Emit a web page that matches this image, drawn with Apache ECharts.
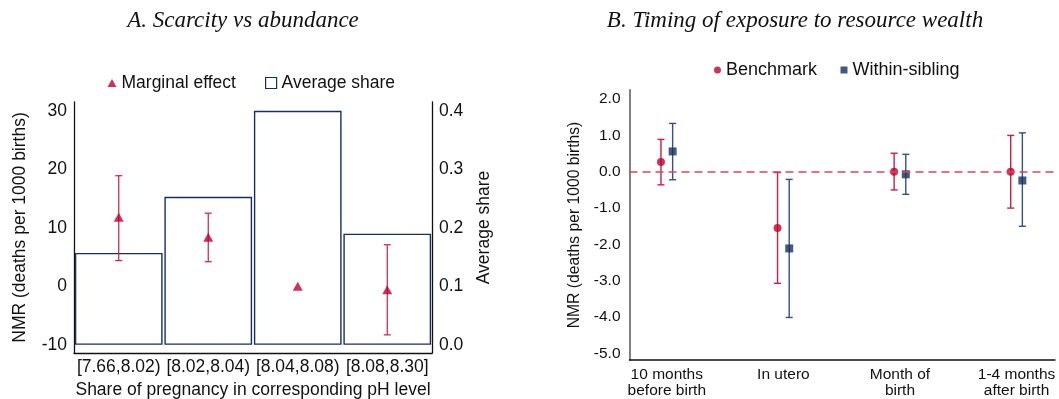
<!DOCTYPE html>
<html><head><meta charset="utf-8">
<script src="https://cdn.jsdelivr.net/npm/echarts@6/dist/echarts.min.js"></script>
<style>html,body{margin:0;padding:0;background:#fff}#c{width:1059px;height:399px}</style>
</head><body><div id="c"></div>
<script>
// ---- Panel A data ----
const phCategories = ['[7.66,8.02)', '[8.02,8.04)', '[8.04,8.08)', '[8.08,8.30]'];
const averageShare = [0.157, 0.253, 0.400, 0.190];
const marginalEffect = [11.8, 8.4, 0.0, -0.6];
const marginalLow = [4.4, 4.2, null, -8.3];
const marginalHigh = [18.9, 12.5, null, 7.1];
const nmrTicksA = [-10, 0, 10, 20, 30];
const shareTicks = [0, 0.1, 0.2, 0.3, 0.4];

// ---- Panel B data ----
const timingCategories = ['10 months\nbefore birth', 'In utero', 'Month of\nbirth', '1-4 months\nafter birth'];
const timingPositions = [1, 2, 3, 4];
const benchmark = [0.27, -1.55, 0.0, 0.0];
const benchmarkLow = [-0.36, -3.07, -0.50, -1.00];
const benchmarkHigh = [0.89, -0.02, 0.51, 1.00];
const sibling = [0.56, -2.11, -0.07, -0.24];
const siblingLow = [-0.22, -4.01, -0.62, -1.50];
const siblingHigh = [1.33, -0.21, 0.48, 1.07];
const nmrTicksB = [-5, -4, -3, -2, -1, 0, 1, 2];

const FONT = "'Liberation Sans', Arial, Helvetica, sans-serif";
const RED = '#bf0030', RED_CI = '#c81f44';
const NAVY = '#172f60', NAVY_CI = '#34508a';
const OFFSET = 0.05;

function errBar(color, half, lw) {
  return function (params, api) {
    const x = api.value(0), lo = api.value(1), hi = api.value(2);
    if (lo == null || isNaN(lo)) return null;
    const a = api.coord([x, hi]), b = api.coord([x, lo]);
    const st = { stroke: color, lineWidth: lw };
    return { type: 'group', children: [
      { type: 'line', shape: { x1: a[0], y1: a[1], x2: b[0], y2: b[1] }, style: st },
      { type: 'line', shape: { x1: a[0] - half, y1: a[1], x2: a[0] + half, y2: a[1] }, style: st },
      { type: 'line', shape: { x1: b[0] - half, y1: b[1], x2: b[0] + half, y2: b[1] }, style: st }
    ]};
  };
}

const chart = echarts.init(document.getElementById('c'), null, { renderer: 'canvas' });
const legendText = { fontFamily: FONT, fontSize: 17.5, color: '#111' };
const serifTitle = { fontFamily: "'Liberation Serif', 'Times New Roman', serif", fontStyle: 'italic', fontWeight: 'normal', fontSize: 23, color: '#111' };

const option = {
  animation: false,
  backgroundColor: '#fff',
  title: [
    { text: 'A. Scarcity vs abundance', left: 238, top: 4, textAlign: 'center', textStyle: serifTitle },
    { text: 'B. Timing of exposure to resource wealth', left: 790, top: 4, textAlign: 'center', textStyle: serifTitle }
  ],
  legend: [
    { data: [{ name: 'Marginal effect', icon: 'triangle' }], left: 107.5, top: 74, padding: 0,
      itemWidth: 9, itemHeight: 8, itemGap: 0, itemTextGap: 6, textStyle: legendText },
    { data: [{ name: 'Average share', icon: 'rect', itemStyle: { color: '#fff', borderColor: NAVY, borderWidth: 1.2 } }],
      left: 265, top: 74, padding: 0, itemWidth: 11, itemHeight: 11, itemTextGap: 5, textStyle: legendText },
    { data: [{ name: 'Benchmark', icon: 'circle' }], left: 714, top: 61, padding: 0,
      itemWidth: 7, itemHeight: 7, itemTextGap: 8, textStyle: { fontFamily: FONT, fontSize: 18, color: '#111' } },
    { data: [{ name: 'Within-sibling', icon: 'rect' }], left: 840.5, top: 61, padding: 0,
      itemWidth: 7, itemHeight: 7, itemTextGap: 8, textStyle: { fontFamily: FONT, fontSize: 18, color: '#111' } }
  ],
  grid: [
    { left: 74, right: 1059 - 432, top: 102, bottom: 399 - 353, containLabel: false, outerBoundsMode: 'none' },
    { left: 629.5, right: 1059 - 1055, top: 90, bottom: 399 - 360, containLabel: false, outerBoundsMode: 'none' }
  ],
  xAxis: [
    { gridIndex: 0, type: 'category', data: phCategories, boundaryGap: true,
      axisLine: { onZero: false, lineStyle: { color: '#111', width: 1.3 } }, axisTick: { show: false },
      axisLabel: { interval: 0, margin: 5, fontFamily: FONT, fontSize: 17.5, color: '#111' },
      name: 'Share of pregnancy in corresponding pH level', nameLocation: 'middle', nameGap: 22,
      nameTextStyle: { fontFamily: FONT, fontSize: 17.5, color: '#111' } },
    { gridIndex: 1, type: 'value', min: 0.68, max: 4.33,
      axisLine: { show: true, onZero: false, lineStyle: { color: '#111', width: 1.5 } }, axisTick: { show: false },
      splitLine: { show: false },
      axisLabel: { customValues: timingPositions, margin: 7, lineHeight: 16, fontFamily: FONT, fontSize: 15.5, color: '#111',
        formatter: v => timingCategories[timingPositions.indexOf(v)] } }
  ],
  yAxis: [
    { gridIndex: 0, type: 'value', min: -11.4, max: 31.5, position: 'left',
      axisLine: { show: true, onZero: false, lineStyle: { color: '#111', width: 1.3 } }, axisTick: { show: false }, splitLine: { show: false },
      axisLabel: { customValues: nmrTicksA, margin: 7, fontFamily: FONT, fontSize: 17.5, color: '#111' },
      name: 'NMR (deaths per 1000 births)', nameLocation: 'middle', nameGap: 45,
      nameTextStyle: { fontFamily: FONT, fontSize: 17.5, color: '#111' } },
    { gridIndex: 0, type: 'value', min: -0.014, max: 0.415, position: 'right',
      axisLine: { show: true, onZero: false, lineStyle: { color: '#111', width: 1.3 } }, axisTick: { show: false }, splitLine: { show: false },
      axisLabel: { customValues: shareTicks, margin: 7, fontFamily: FONT, fontSize: 17.5, color: '#111', formatter: v => v.toFixed(1) },
      name: 'Average share', nameLocation: 'middle', nameGap: 43, nameRotate: 90,
      nameTextStyle: { fontFamily: FONT, fontSize: 17.5, color: '#111' } },
    { gridIndex: 1, type: 'value', min: -5.18, max: 2.25,
      axisLine: { show: true, onZero: false, lineStyle: { color: '#808080', width: 2 } }, axisTick: { show: false }, splitLine: { show: false },
      axisLabel: { customValues: nmrTicksB, margin: 9, fontFamily: FONT, fontSize: 15.5, color: '#111', formatter: v => v.toFixed(1) },
      name: 'NMR (deaths per 1000 births)', nameLocation: 'middle', nameGap: 47,
      nameTextStyle: { fontFamily: FONT, fontSize: 15.7, color: '#111' } }
  ],
  series: [
    { name: 'Average share', type: 'bar', xAxisIndex: 0, yAxisIndex: 1, data: averageShare,
      barWidth: '98%', itemStyle: { color: '#fff', borderColor: NAVY, borderWidth: 1.4 }, z: 1 },
    { name: 'Marginal effect CI', type: 'custom', xAxisIndex: 0, yAxisIndex: 0,
      renderItem: errBar(RED_CI, 3.5, 1.2),
      encode: { x: 0, y: [1, 2] },
      data: phCategories.map((c, i) => [i, marginalLow[i], marginalHigh[i]]), z: 3 },
    { name: 'Marginal effect', type: 'scatter', xAxisIndex: 0, yAxisIndex: 0,
      symbol: 'triangle', symbolSize: [10, 9], itemStyle: { color: RED },
      data: marginalEffect.map((v, i) => [i, v]), z: 4 },

    { name: 'Benchmark CI', type: 'custom', xAxisIndex: 1, yAxisIndex: 2,
      renderItem: errBar(RED_CI, 3.5, 1.4), encode: { x: 0, y: [1, 2] },
      data: timingPositions.map((p, i) => [p - OFFSET, benchmarkLow[i], benchmarkHigh[i]]), z: 3 },
    { name: 'Within-sibling CI', type: 'custom', xAxisIndex: 1, yAxisIndex: 2,
      renderItem: errBar(NAVY_CI, 3.5, 1.4), encode: { x: 0, y: [1, 2] },
      data: timingPositions.map((p, i) => [p + OFFSET, siblingLow[i], siblingHigh[i]]), z: 3 },
    { name: 'Benchmark', type: 'scatter', xAxisIndex: 1, yAxisIndex: 2,
      symbol: 'circle', symbolSize: 8, itemStyle: { color: RED },
      data: timingPositions.map((p, i) => [p - OFFSET, benchmark[i]]), z: 4,
      markLine: { silent: true, symbol: 'none', label: { show: false },
        lineStyle: { color: '#d9465e', type: [8, 5], width: 1.5 }, data: [{ yAxis: 0 }] } },
    { name: 'Within-sibling', type: 'scatter', xAxisIndex: 1, yAxisIndex: 2,
      symbol: 'rect', symbolSize: 8, itemStyle: { color: NAVY },
      data: timingPositions.map((p, i) => [p + OFFSET, sibling[i]]), z: 4 }
  ]
};
chart.setOption(option);
</script>
</body></html>
